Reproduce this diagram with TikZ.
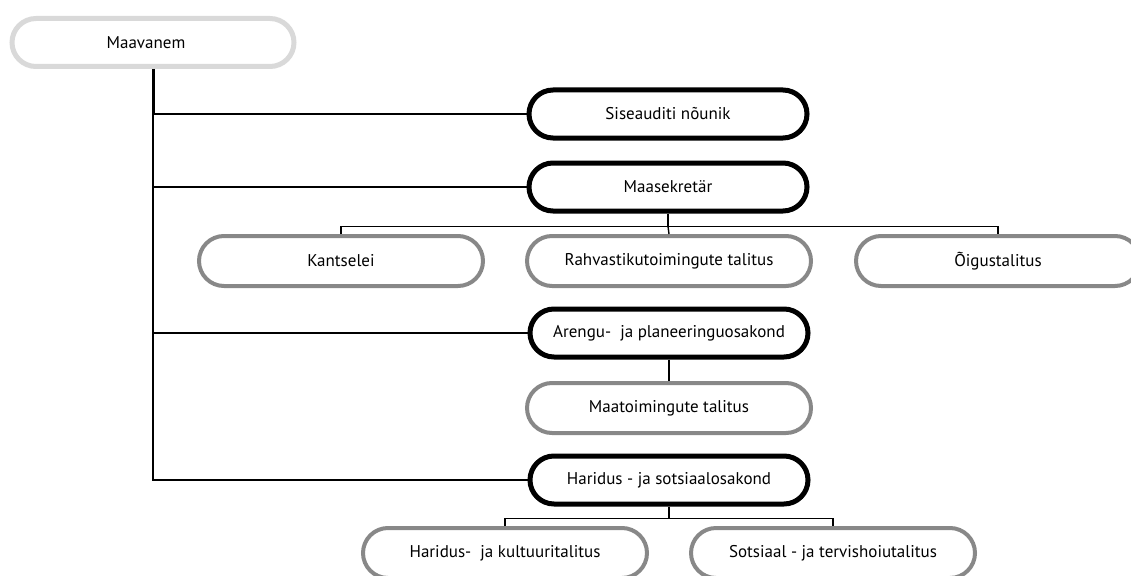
\documentclass[tikz,border=0pt]{standalone}
\usepackage{fontspec}
\setmainfont{PT Sans}
\definecolor{lightgr}{HTML}{D9D9D9}
\definecolor{midgr}{HTML}{888888}
\begin{document}
\begin{tikzpicture}[x=1pt,y=-1pt,
  box/.style={rectangle, rounded corners=24pt, minimum width=278pt, minimum height=48pt, fill=white, font=\fontsize{17}{20}\selectfont, inner sep=0pt},
  blackbox/.style={box, draw=black, line width=5pt},
  graybox/.style={box, draw=midgr, line width=4pt, minimum width=284pt, minimum height=50pt, rounded corners=25pt},
  topbox/.style={box, draw=lightgr, line width=5pt, minimum width=282pt, minimum height=48pt},
  conn/.style={line width=1.4pt, black}]
\useasboundingbox (0,0) rectangle (1131,575);
\node[topbox] (top) at (153,42.5) {\hspace*{-14pt}Maavanem};
\node[blackbox] (sise) at (668,114) {Siseauditi nõunik};
\node[blackbox] (sek) at (668,187) {Maasekretär};
\node[graybox] (kants) at (341,261) {Kantselei};
\node[graybox] (rahv) at (669,261) {Rahvastikutoimingute talitus};
\node[graybox] (oig) at (998,261) {Õigustalitus};
\node[blackbox] (aren) at (669,333) {Arengu-\ \ ja planeeringuosakond};
\node[graybox] (maat) at (669,408) {Maatoimingute talitus};
\node[blackbox] (harid) at (669,480) {Haridus - ja sotsiaalosakond};
\node[graybox] (hk) at (505,553) {Haridus-\ \ ja kultuuritalitus};
\node[graybox] (st) at (833,553) {Sotsiaal - ja tervishoiutalitus};
% trunk
\draw[line width=3pt] (top.south) -- (sise.west -| top.south);
\draw[conn] (sise.west -| top.south) |- (harid.west);
\draw[conn] (sise.west -| top.south) -- (sise.west);
\draw[conn] (sek.west -| top.south) -- (sek.west);
\draw[conn] (aren.west -| top.south) -- (aren.west);
% Maasekretar children
\draw[conn] (sek.south) -- ++(0,13) coordinate (j1);
\draw[conn] (kants.north) |- (j1) -| (oig.north);
\draw[conn] (j1) -- (rahv.north);
% Arengu child
\draw[conn] (aren.south) -- (maat.north);
% Haridus children
\draw[conn] (harid.south) -- ++(0,12) coordinate (j2);
\draw[conn] (hk.north) |- (j2) -| (st.north);
\end{tikzpicture}
\end{document}
